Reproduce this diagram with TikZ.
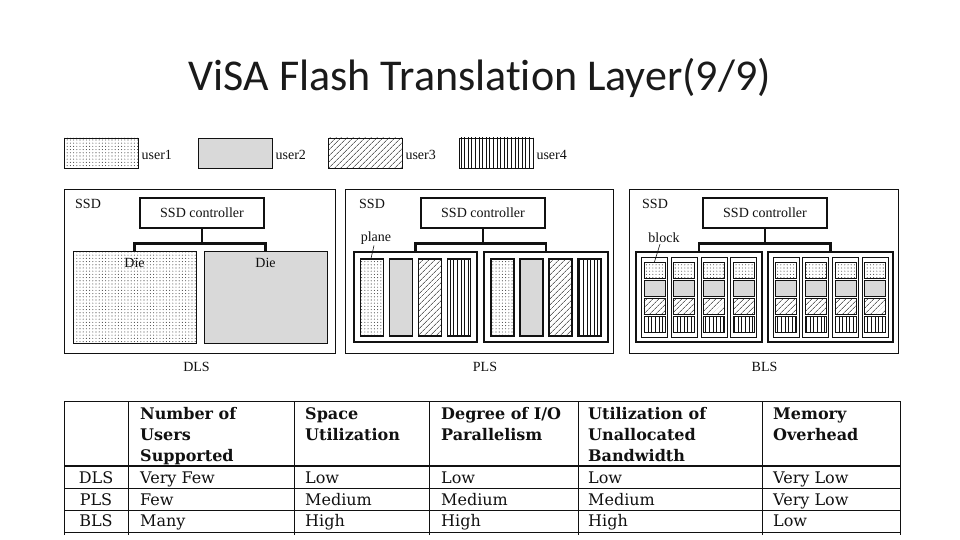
\documentclass[tikz,border=0pt]{standalone}
\usepackage{fontspec}
\setmainfont{Liberation Serif}
\newfontfamily\visaTitleFont[Ligatures=NoCommon]{Carlito}
\newfontfamily\visaTabFont{DejaVu Serif}
\usepackage{tikz}
\usetikzlibrary{positioning,patterns.meta}
\definecolor{visaInk}{HTML}{111111}
\definecolor{visaTitle}{HTML}{1A1A1A}
\definecolor{visaGray}{HTML}{D9D9D9}
\definecolor{visaDot}{HTML}{4A4A4A}

\begin{document}
\begin{tikzpicture}[
  x=1pt,y=-1pt,
  font=\fontsize{14}{16}\selectfont,
  lbl/.style={inner sep=1pt,text=visaInk},
  ssdbox/.style={draw=visaInk,line width=0.9pt,minimum width=#1,minimum height=164,inner sep=0pt},
  ctrl/.style={draw=visaInk,line width=2.6pt,minimum width=124,minimum height=30,inner sep=0pt,text=visaInk},
  flatdie/.style={draw=visaInk,line width=0.9pt,minimum width=123,minimum height=92,inner sep=0pt},
  thickdie/.style={draw=visaInk,line width=2.8pt,minimum width=#1,minimum height=90,inner sep=0pt},
  plane/.style={draw=visaInk,line width=1.2pt,minimum width=23,minimum height=77,inner sep=0pt},
  bplane/.style={draw=visaInk,line width=0.7pt,minimum width=26,minimum height=80,inner sep=0pt},
  blk/.style={draw=visaInk,line width=0.8pt,minimum width=21,minimum height=16,inner sep=0pt},
  legbox/.style={draw=visaInk,line width=0.9pt,minimum width=74,minimum height=30,inner sep=0pt},
  bus/.style={draw=visaInk,line width=2.8pt},
  leader/.style={draw=visaInk,line width=0.6pt},
  usrA/.style={pattern={Dots[distance=3.2pt,radius=0.55pt]},pattern color=visaDot},
  usrB/.style={fill=visaGray},
  usrC/.style={pattern={Lines[angle=45,distance=4pt,line width=0.6pt]},pattern color=visaInk},
  usrD/.style={pattern={Lines[angle=90,distance=3.6pt,line width=0.6pt]},pattern color=visaInk},
  tabrule/.style={draw=visaInk,line width=0.8pt},
  head/.style={anchor=north west,inner sep=0pt,align=left,text=visaInk,font=\visaTabFont\bfseries\fontsize{16}{21}\selectfont},
  cell/.style={anchor=base west,inner sep=0pt,text=visaInk,font=\visaTabFont\fontsize{16}{21}\selectfont}
]
  \useasboundingbox[fill=white] (0,0) rectangle (960,540);

  % title
  \node[text=visaTitle,font=\visaTitleFont\fontsize{44}{50}\selectfont] (title) at (480,78) {ViSA Flash Translation Layer(9/9)};

  % legend
  \node[legbox,usrA] (legA) at (101,153) {};
  \node[legbox,usrB] (legB) at (235,153) {};
  \node[legbox,usrC] (legC) at (365,153) {};
  \node[legbox,usrD] (legD) at (496,153) {};
  \node[lbl,right=2pt of legA,yshift=-2pt] (legAtxt) {user1};
  \node[lbl,right=2pt of legB,yshift=-2pt] (legBtxt) {user2};
  \node[lbl,right=2pt of legC,yshift=-2pt] (legCtxt) {user3};
  \node[lbl,right=2pt of legD,yshift=-2pt] (legDtxt) {user4};

  % DLS: one user per die
  \node[ssdbox=271] (ssdA) at (199.5,271) {};
  \node[lbl,anchor=west] (ssdAtxt) at (74,204) {SSD};
  \node[ctrl] (ctrlA) at (202,213) {SSD controller};
  \node[flatdie,usrA] (dieA1) at (134.5,297) {};
  \node[flatdie,usrB] (dieA2) at (265.5,297) {};
  \node[lbl,below=6pt of dieA1.north] (dieA1txt) {Die};
  \node[lbl,below=6pt of dieA2.north] (dieA2txt) {Die};
  \draw[bus] (ctrlA.south) -- ++(0,14) coordinate (busA);
  \draw[bus] (busA) -| (dieA1.north);
  \draw[bus] (busA) -| (dieA2.north);
  \node[lbl,below=8pt of ssdA,xshift=-3pt] (dlsTxt) {DLS};

  % PLS: one user per plane
  \node[ssdbox=268] (ssdB) at (479,271) {};
  \node[lbl,anchor=west] (ssdBtxt) at (358,204) {SSD};
  \node[ctrl] (ctrlB) at (483,213) {SSD controller};
  \node[thickdie=123] (dieB1) at (415.5,297) {};
  \node[thickdie=124] (dieB2) at (546,297) {};
  \draw[bus] (ctrlB.south) -- ++(0,14) coordinate (busB);
  \draw[bus] (busB) -| (dieB1.north);
  \draw[bus] (busB) -| (dieB2.north);
  \foreach \d in {1,2}
    \foreach \k/\dx/\u in {1/-43.5/A,2/-14.5/B,3/14.5/C,4/43.5/D}
      \node[plane,usr\u,xshift=\dx pt,yshift=-0.5pt] (planeB\d\k) at (dieB\d) {};
  \node[lbl] (planeTxt) at (376,238) {plane};
  \draw[leader] ([xshift=-2pt]planeTxt.south) -- ([xshift=-1pt]planeB11.north);
  \node[lbl,below=8pt of ssdB,xshift=6pt] (plsTxt) {PLS};

  % BLS: one user per block
  \node[ssdbox=269] (ssdC) at (763.5,271) {};
  \node[lbl,anchor=west] (ssdCtxt) at (641,204) {SSD};
  \node[ctrl] (ctrlC) at (765,213) {SSD controller};
  \node[thickdie=126] (dieC1) at (699,297) {};
  \node[thickdie=125] (dieC2) at (830.5,297) {};
  \draw[bus] (ctrlC.south) -- ++(0,14) coordinate (busC);
  \draw[bus] (busC) -| (dieC1.north);
  \draw[bus] (busC) -| (dieC2.north);
  \foreach \d in {1,2}
    \foreach \k/\dx in {1/-44.6,2/-14.9,3/14.9,4/44.6}{
      \node[bplane,xshift=\dx pt,yshift=-0.5pt] (planeC\d\k) at (dieC\d) {};
      \foreach \b/\dy/\u in {1/27/A,2/9/B,3/-9/C,4/-27/D}
        \node[blk,usr\u,yshift=\dy pt] (blkC\d\k\b) at (planeC\d\k) {};
    }
  \node[lbl] (blockTxt) at (664,238) {block};
  \draw[leader] ([xshift=-4pt]blockTxt.south) -- (blkC111.north);
  \node[lbl,below=8pt of ssdC,xshift=1pt] (blsTxt) {BLS};

  % comparison table
  \draw[tabrule] (64,401) -- (900,401);
  \draw[tabrule,line width=2.4pt] (64,466) -- (900,466);
  \foreach \yy in {488,510,532}
    \draw[tabrule] (64,\yy) -- (900,\yy);
  \foreach \xx in {64,128,294.5,429,578,762,900}
    \draw[tabrule] (\xx,401) -- (\xx,535);

  \node[head] (hUsers) at (140,407.5) {Number of\\Users\\Supported};
  \node[head] (hSpace) at (305,407.5) {Space\\Utilization};
  \node[head] (hIO) at (441,407.5) {Degree of I/O\\Parallelism};
  \node[head] (hBand) at (588,407.5) {Utilization of\\Unallocated\\Bandwidth};
  \node[head] (hMem) at (773,407.5) {Memory\\Overhead};

  \foreach \nm/\yy/\ca/\cb/\cc/\cd/\ce in {
    DLS/483/Very Few/Low/Low/Low/Very Low,
    PLS/505/Few/Medium/Medium/Medium/Very Low,
    BLS/526.5/Many/High/High/High/Low}{
    \node[cell,anchor=base] (row\nm) at (96,\yy) {\nm};
    \node[cell] (row\nm-a) at (140,\yy) {\ca};
    \node[cell] (row\nm-b) at (305,\yy) {\cb};
    \node[cell] (row\nm-c) at (441,\yy) {\cc};
    \node[cell] (row\nm-d) at (588,\yy) {\cd};
    \node[cell] (row\nm-e) at (773,\yy) {\ce};
  }
\end{tikzpicture}
\end{document}
